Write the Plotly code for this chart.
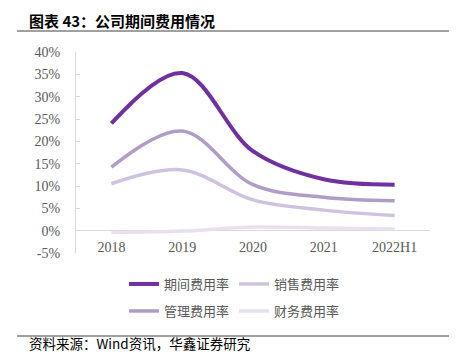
import plotly.graph_objects as go

periods = ["2018", "2019", "2020", "2021", "2022H1"]
period_rate = [24.0, 35.3, 17.8, 11.5, 10.3]
admin_rate = [14.2, 22.3, 10.3, 7.5, 6.7]
sales_rate = [10.5, 13.6, 6.9, 4.6, 3.4]
finance_rate = [-0.4, -0.1, 0.8, 0.6, 0.4]

y_tickvals = [-5, 0, 5, 10, 15, 20, 25, 30, 35, 40]
y_ticktext = ["-5%", "0%", "5%", "10%", "15%", "20%", "25%", "30%", "35%", "40%"]

# page body has an 8px margin: figure is drawn from screen (8, 8)
OFF = 8
W, H = 457 - OFF, 364 - OFF
L, R = 76 - OFF, 430 - OFF
T, B = 52 - OFF, 253 - OFF


def px(p):
    return (p - OFF - L) / (R - L)


def py(q):
    return (B - (q - OFF)) / (B - T)


cjk = "Noto Sans CJK SC"
serif = "Liberation Serif"

fig = go.Figure()
series = [
    ("期间费用率", period_rate, "#7030A0", 4, "legend", 124, 284),
    ("销售费用率", sales_rate, "#CEC2DF", 3.5, "legend2", 234, 284),
    ("管理费用率", admin_rate, "#B09DC7", 3.5, "legend3", 124, 311),
    ("财务费用率", finance_rate, "#E8E0EE", 3.5, "legend4", 234, 311),
]
legends = {}
for name, vals, color, w, lg, lx, ly in series:
    fig.add_trace(go.Scatter(
        x=periods, y=vals, name=name, mode="lines",
        line=dict(color=color, width=w, shape="spline", smoothing=1.0),
        legend=lg,
    ))
    legends[lg] = dict(
        x=px(lx), y=py(ly), orientation="h", xanchor="left", yanchor="middle",
        font=dict(family=cjk, size=13, color="#595959"),
        bgcolor="rgba(0,0,0,0)", itemwidth=30,
    )

fig.update_layout(
    width=W, height=H,
    margin=dict(l=L, r=W - R, t=T, b=H - B, pad=0),
    paper_bgcolor="white", plot_bgcolor="white",
    showlegend=True,
    **legends,
    xaxis=dict(
        type="category", range=[-0.5, 4.5],
        anchor="free", position=5 / 45,
        showline=False, showgrid=False, ticks="",
        tickfont=dict(family=serif, size=14, color="#595959"),
        ticklabelstandoff=6,
    ),
    yaxis=dict(
        range=[-5, 40], tickvals=y_tickvals, ticktext=y_ticktext,
        showgrid=False, zeroline=True, zerolinecolor="#D9D9D9", zerolinewidth=1,
        showline=True, linecolor="#D9D9D9", linewidth=1,
        ticks="inside", ticklen=4, tickcolor="#D9D9D9",
        tickfont=dict(family=serif, size=14, color="#595959"),
        ticklabelstandoff=12,
    ),
    shapes=[
        dict(type="line", xref="paper", yref="paper",
             x0=px(17), x1=px(457), y0=py(31), y1=py(31),
             line=dict(color="#404040", width=1)),
        dict(type="line", xref="paper", yref="paper",
             x0=px(17), x1=px(457), y0=py(336), y1=py(336),
             line=dict(color="#404040", width=1)),
    ],
    annotations=[
        dict(text="<b>图表 43：公司期间费用情况</b>", xref="paper", yref="paper",
             x=px(27), y=py(21), xanchor="left", yanchor="middle", showarrow=False,
             font=dict(family=cjk, size=15, color="#000000")),
        dict(text="资料来源：Wind资讯，华鑫证券研究", xref="paper", yref="paper",
             x=px(27), y=py(343), xanchor="left", yanchor="middle", showarrow=False,
             font=dict(family=cjk, size=13.5, color="#000000")),
    ],
)

fig.write_html("out.html")
